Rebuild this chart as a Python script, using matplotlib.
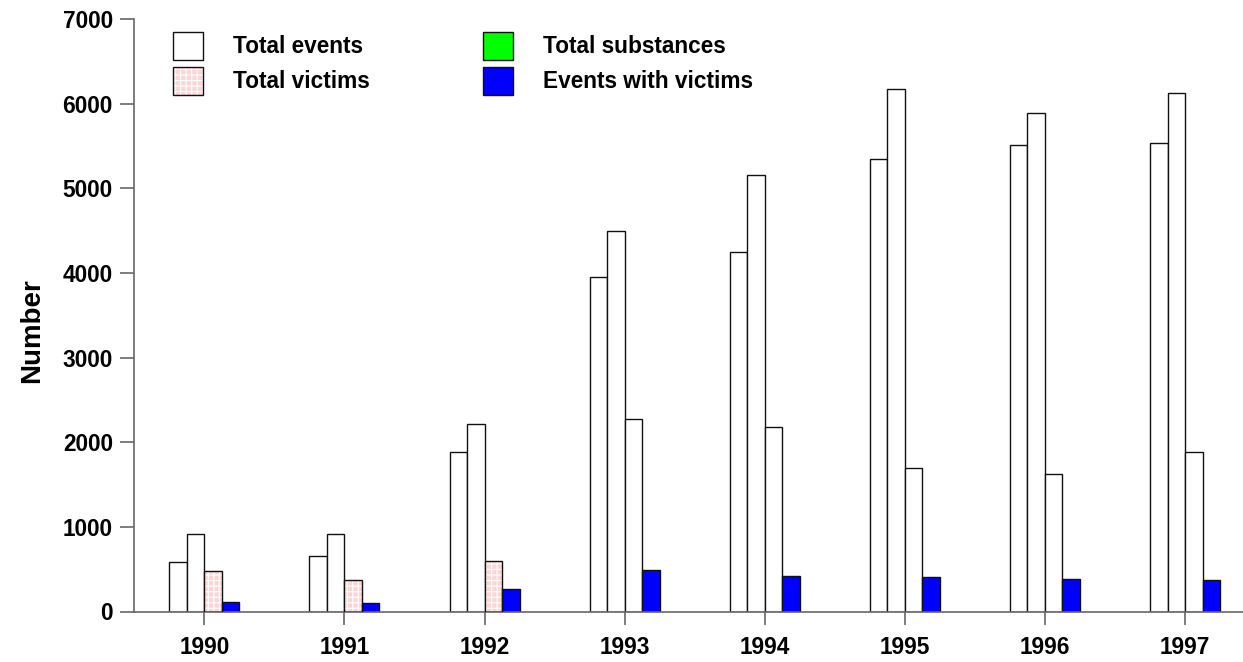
import matplotlib
matplotlib.use("Agg")
import matplotlib.pyplot as plt
import numpy as np
from matplotlib.patches import Patch

years = ["1990", "1991", "1992", "1993", "1994", "1995", "1996", "1997"]
total_events = [590, 660, 1880, 3950, 4245, 5350, 5510, 5530]
total_substances = [920, 915, 2220, 4490, 5155, 6170, 5895, 6120]
total_victims = [475, 370, 600, 2270, 2180, 1690, 1620, 1890]
events_with_victims = [110, 95, 265, 485, 415, 405, 385, 370]
# bar fill of the third series as drawn in the reference (pink patterned, later white)
victims_patterned = [True, True, True, False, False, False, False, False]

PINK = "#fcd6d6"
BLUE = "#0000ff"
GREEN = "#00ff00"
EDGE = "#111111"
AXC = "#666666"
FS = 16.3

plt.rcParams["font.family"] = ["Liberation Sans", "DejaVu Sans"]
plt.rcParams["font.weight"] = "bold"
plt.rcParams["hatch.linewidth"] = 0.8

W, H = 1243, 662
fig = plt.figure(figsize=(W / 100, H / 100), dpi=100)
left_px, right_px = 134.3, 134.3 + 8 * 140.1
bottom_px, top_px = 611.5, 19
ax = fig.add_axes([left_px / W, (H - bottom_px) / H,
                   (right_px - left_px) / W, (bottom_px - top_px) / H])

x = np.arange(len(years))
w = 0.125
lw = 1.0

ax.bar(x - 1.5 * w, total_events, w, facecolor="white", edgecolor=EDGE, linewidth=lw, zorder=2)
ax.bar(x - 0.5 * w, total_substances, w, facecolor="white", edgecolor=EDGE, linewidth=lw, zorder=2)

# third series: patterned pink for flagged years, white otherwise
for xi, v, pat in zip(x, total_victims, victims_patterned):
    if pat:
        ax.bar(xi + 0.5 * w, v, w, facecolor=PINK, edgecolor="white", hatch="+++",
               linewidth=0, zorder=2)
        ax.bar(xi + 0.5 * w, v, w, fill=False, edgecolor=EDGE, linewidth=lw, zorder=3)
    else:
        ax.bar(xi + 0.5 * w, v, w, facecolor="white", edgecolor=EDGE, linewidth=lw, zorder=2)

ax.bar(x + 1.5 * w, events_with_victims, w, facecolor=BLUE, edgecolor=EDGE, linewidth=lw, zorder=2)

ax.set_xlim(-0.5, 7.5)
ax.set_ylim(0, 7000)
ax.set_xticks(x)
ax.set_xticklabels(years)
ax.set_yticks(np.arange(0, 7001, 1000))

for s in ["top", "right"]:
    ax.spines[s].set_visible(False)
for s in ["left", "bottom"]:
    ax.spines[s].set_color(AXC)
    ax.spines[s].set_linewidth(1.2)

ax.tick_params(axis="y", direction="out", length=10, width=1.2, color=AXC,
               labelsize=FS, pad=5.5)
ax.tick_params(axis="x", direction="out", length=9, width=1.2, color=AXC,
               labelsize=FS, pad=8.8)
for lab in ax.get_xticklabels() + ax.get_yticklabels():
    lab.set_fontweight("bold")

ax.set_ylabel("Number", fontsize=20, fontweight="bold")
ax.yaxis.set_label_coords((45 - left_px) / (right_px - left_px),
                          (bottom_px - 331) / (bottom_px - top_px))

h_events = Patch(facecolor="white", edgecolor=EDGE, linewidth=lw)
h_victims_fill = Patch(facecolor=PINK, edgecolor="white", hatch="+++", linewidth=0)
h_victims_edge = Patch(fill=False, edgecolor=EDGE, linewidth=lw)
h_subst = Patch(facecolor=GREEN, edgecolor=EDGE, linewidth=lw)
h_ewv = Patch(facecolor=BLUE, edgecolor=EDGE, linewidth=lw)

leg = ax.legend([h_events, (h_victims_fill, h_victims_edge), h_subst, h_ewv],
                ["Total events", "Total victims", "Total substances", "Events with victims"],
                ncol=2, frameon=False, loc="upper left",
                bbox_to_anchor=(172.7 / W, 1 - 31.7 / H), bbox_transform=fig.transFigure,
                borderaxespad=0, borderpad=0,
                prop={"size": FS, "weight": "bold"},
                handlelength=1.327, handleheight=1.53, handletextpad=1.327,
                labelspacing=0.30, columnspacing=5.03)

fig.savefig("out.png", dpi=100)
